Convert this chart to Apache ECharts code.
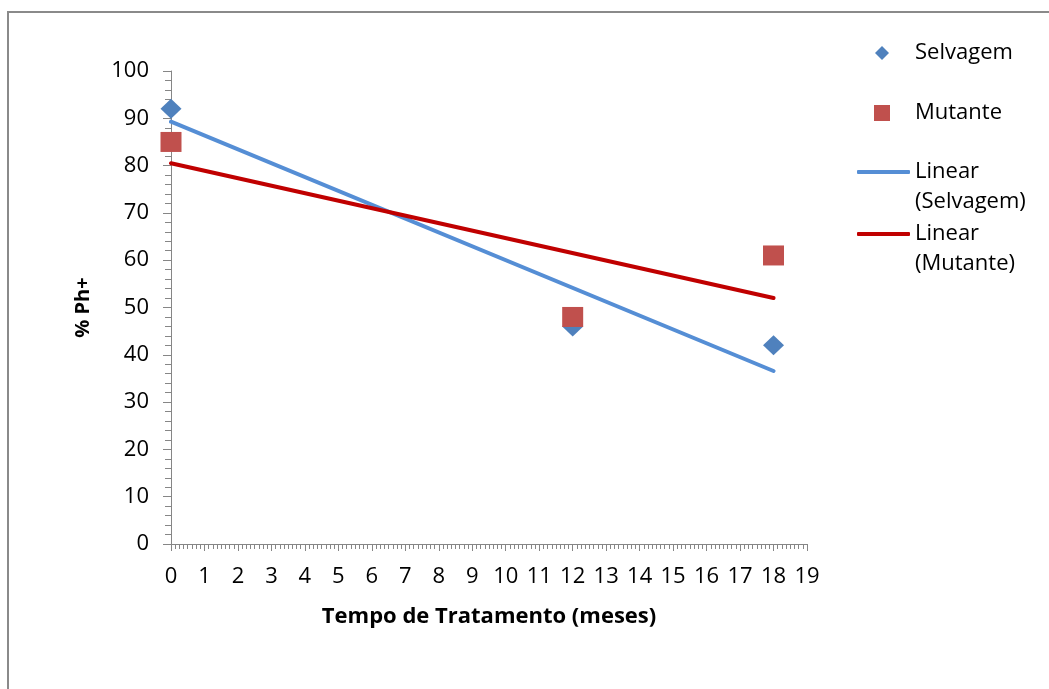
<!DOCTYPE html>
<html>
<head>
<meta charset="utf-8">
<script src="https://cdn.jsdelivr.net/npm/echarts@6/dist/echarts.min.js"></script>
<style>
  html, body { margin: 0; padding: 0; background: #fff; }
  #chart { width: 1049px; height: 689px; }
</style>
</head>
<body>
<div id="chart"></div>
<script>
// Treatment time (months) and % Ph+ for each group
const months = [0, 12, 18];
const selvagem = [92, 46, 42];
const mutante = [85, 48, 61];

const seriesNames = ['Selvagem', 'Mutante', 'Linear (Selvagem)', 'Linear (Mutante)'];
const xAxisTitle = 'Tempo de Tratamento (meses)';
const yAxisTitle = '% Ph+';

const FONT = '"Open Sans", "Noto Sans", sans-serif';

// Ordinary least-squares fit, returned as its two end points over the data range
function linearFit(xs, ys) {
  const n = xs.length;
  const mx = xs.reduce((a, b) => a + b, 0) / n;
  const my = ys.reduce((a, b) => a + b, 0) / n;
  let sxy = 0, sxx = 0;
  for (let i = 0; i < n; i++) {
    sxy += (xs[i] - mx) * (ys[i] - my);
    sxx += (xs[i] - mx) * (xs[i] - mx);
  }
  const slope = sxy / sxx;
  const icpt = my - slope * mx;
  const x0 = Math.min(...xs), x1 = Math.max(...xs);
  return [[x0, icpt + slope * x0], [x1, icpt + slope * x1]];
}

const pairs = ys => months.map((m, i) => [m, ys[i]]);

const COLORS = {
  selvagem: '#4F81BD',
  mutante: '#C0504D',
  trendSelvagem: '#558ED5',
  trendMutante: '#C00000'
};

const legendText = {
  color: '#000',
  fontFamily: FONT,
  fontSize: 22
};

// Two-line trend legend labels: a blank leading line keeps the first
// text line level with the line icon
const trendLabel = (a, b) => '\u00a0\n' + a + '\n' + b;

const chart = echarts.init(document.getElementById('chart'), null, { renderer: 'canvas' });

chart.setOption({
  backgroundColor: '#fff',
  animation: false,
  graphic: [{
    type: 'rect',
    shape: { x: 8, y: 12, width: 1200, height: 900 },
    style: { fill: 'none', stroke: '#8a8a8a', lineWidth: 2 },
    silent: true
  }],
  grid: { left: 171, right: 242, top: 71, bottom: 145, containLabel: false },
  xAxis: {
    type: 'value',
    min: 0, max: 19, interval: 1,
    name: xAxisTitle,
    nameLocation: 'middle',
    nameGap: 62,
    nameTextStyle: { color: '#000', fontFamily: FONT, fontSize: 22, fontWeight: 'bold' },
    axisLine: { show: true, onZero: false, lineStyle: { color: '#868686', width: 1 } },
    axisTick: { show: true, length: 7, lineStyle: { color: '#868686' } },
    minorTick: { show: true, splitNumber: 8, length: 5, lineStyle: { color: '#868686' } },
    axisLabel: { margin: 22, color: '#000', fontFamily: FONT, fontSize: 22 },
    splitLine: { show: false }
  },
  yAxis: {
    type: 'value',
    min: 0, max: 100, interval: 10,
    name: yAxisTitle,
    nameLocation: 'middle',
    nameRotate: 90,
    nameGap: 78,
    nameTextStyle: { color: '#000', fontFamily: FONT, fontSize: 20, fontWeight: 'bold' },
    axisLine: { show: true, lineStyle: { color: '#868686', width: 1 } },
    axisTick: { show: true, length: 8, lineStyle: { color: '#868686' } },
    minorTick: { show: true, splitNumber: 5, length: 6, lineStyle: { color: '#868686' } },
    axisLabel: { margin: 22, color: '#000', fontFamily: FONT, fontSize: 22 },
    splitLine: { show: false }
  },
  legend: [
    {
      data: [seriesNames[0]], orient: 'vertical', left: 875, top: 42, padding: 0,
      icon: 'diamond', itemWidth: 14, itemHeight: 14,
      textStyle: Object.assign({ padding: [0, 0, 0, 21] }, legendText)
    },
    {
      data: [seriesNames[1]], orient: 'vertical', left: 874, top: 102, padding: 0,
      icon: 'rect', itemWidth: 16, itemHeight: 16,
      textStyle: Object.assign({ padding: [0, 0, 0, 20] }, legendText)
    },
    {
      data: [seriesNames[2]], orient: 'vertical', left: 857, top: 127, padding: 0,
      icon: 'roundRect', itemWidth: 53, itemHeight: 4,
      formatter: () => trendLabel('Linear', '(Selvagem)'),
      textStyle: Object.assign({ lineHeight: 30 }, legendText)
    },
    {
      data: [seriesNames[3]], orient: 'vertical', left: 857, top: 189, padding: 0,
      icon: 'roundRect', itemWidth: 53, itemHeight: 4,
      formatter: () => trendLabel('Linear', '(Mutante)'),
      textStyle: Object.assign({ lineHeight: 30 }, legendText)
    }
  ],
  series: [
    {
      name: seriesNames[2],
      type: 'line',
      data: linearFit(months, selvagem),
      showSymbol: false,
      symbol: 'none',
      lineStyle: { color: COLORS.trendSelvagem, width: 4, cap: 'round' },
      itemStyle: { color: COLORS.trendSelvagem },
      z: 2
    },
    {
      name: seriesNames[3],
      type: 'line',
      data: linearFit(months, mutante),
      showSymbol: false,
      symbol: 'none',
      lineStyle: { color: COLORS.trendMutante, width: 4, cap: 'round' },
      itemStyle: { color: COLORS.trendMutante },
      z: 2
    },
    {
      name: seriesNames[0],
      type: 'scatter',
      data: pairs(selvagem),
      symbol: 'diamond',
      symbolSize: [21, 20],
      itemStyle: { color: COLORS.selvagem, opacity: 1 },
      z: 3
    },
    {
      name: seriesNames[1],
      type: 'scatter',
      data: pairs(mutante),
      symbol: 'rect',
      symbolSize: [21, 20],
      itemStyle: { color: COLORS.mutante, opacity: 1 },
      z: 4
    }
  ]
});
</script>
</body>
</html>
